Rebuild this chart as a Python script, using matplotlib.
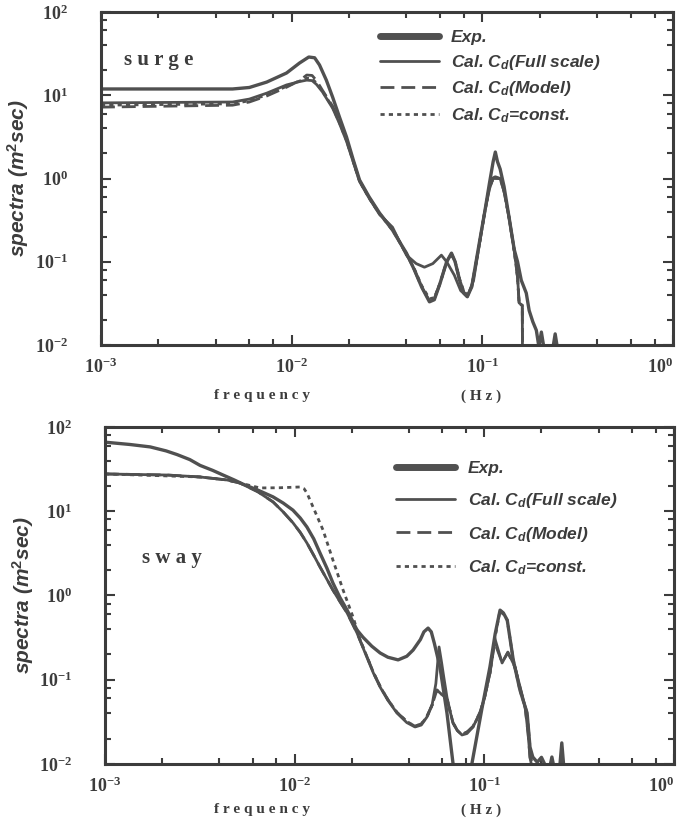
import matplotlib
matplotlib.use("Agg")
import matplotlib.pyplot as plt
from matplotlib.ticker import FixedLocator, FixedFormatter, LogLocator, NullFormatter

# ---- surge ----
surge_exp_f = [0.001, 0.0049, 0.006, 0.0074, 0.0094, 0.011, 0.0123, 0.0132, 0.014, 0.0152,
               0.0164, 0.0178, 0.0194, 0.021, 0.0227, 0.0255, 0.0289, 0.0338, 0.037, 0.040,
               0.044, 0.048, 0.0528, 0.056, 0.060, 0.065, 0.0689, 0.072, 0.076, 0.080,
               0.0834, 0.088, 0.0964, 0.103, 0.109, 0.114, 0.117, 0.120, 0.124, 0.130,
               0.138, 0.147, 0.153, 0.160, 0.170, 0.176, 0.184, 0.192, 0.198, 0.204,
               0.210, 0.235, 0.241, 0.247, 0.3]
surge_exp_s = [11.9, 11.9, 12.4, 14.4, 18.5, 24.4, 28.8, 28.2, 23.1, 15.2,
               9.5, 5.5, 3.15, 1.7, 0.96, 0.6, 0.385, 0.24, 0.17, 0.127,
               0.08, 0.05, 0.033, 0.035, 0.055, 0.1, 0.127, 0.1, 0.06, 0.042,
               0.038, 0.05, 0.168, 0.4, 0.88, 1.6, 2.08, 1.6, 1.3, 0.8,
               0.345, 0.14, 0.1, 0.06, 0.042, 0.026, 0.019, 0.015, 0.0095, 0.0143,
               0.0095, 0.0095, 0.0136, 0.0095, 0.0095]

surge_full_f = [0.001, 0.0049, 0.006, 0.0074, 0.0094, 0.011, 0.012, 0.0128, 0.0135, 0.0145,
                0.0164, 0.0178, 0.0194, 0.021, 0.0227, 0.0255, 0.0289, 0.0338, 0.037, 0.040,
                0.045, 0.0497, 0.055, 0.061, 0.065, 0.0713, 0.077, 0.0834, 0.09, 0.0964,
                0.103, 0.109, 0.114, 0.117, 0.124, 0.130, 0.138, 0.147, 0.153, 0.156,
                0.162, 0.1625]
surge_full_s = [8.1, 8.3, 9.0, 10.6, 13.3, 14.6, 15.2, 15.0, 13.5, 11.0,
                7.0, 4.6, 2.8, 1.6, 0.92, 0.58, 0.37, 0.26, 0.17, 0.12,
                0.095, 0.086, 0.095, 0.12, 0.1, 0.069, 0.045, 0.038, 0.06, 0.16,
                0.4, 0.75, 1.02, 1.05, 1.0, 0.7, 0.345, 0.138, 0.066, 0.032,
                0.03, 0.005]

surge_model_f = [0.001, 0.0049, 0.006, 0.0074, 0.0094, 0.011, 0.012, 0.0128, 0.0135, 0.0145,
                 0.0164, 0.0178, 0.0194, 0.021, 0.0227, 0.0255, 0.0289, 0.0338, 0.037, 0.040,
                 0.044, 0.048, 0.0528, 0.056, 0.060, 0.065, 0.0689, 0.072, 0.076, 0.080,
                 0.0834, 0.088, 0.0964, 0.103, 0.109, 0.114, 0.117, 0.124, 0.130, 0.138,
                 0.147, 0.153, 0.156, 0.162, 0.1625]
surge_model_s = [7.2, 7.6, 8.3, 9.8, 12.5, 15.0, 17.5, 17.3, 15.0, 11.5,
                 7.4, 4.8, 2.9, 1.65, 0.94, 0.59, 0.38, 0.25, 0.17, 0.125,
                 0.08, 0.05, 0.034, 0.036, 0.055, 0.1, 0.125, 0.1, 0.06, 0.043,
                 0.039, 0.05, 0.16, 0.4, 0.8, 1.0, 1.0, 1.0, 0.7, 0.34,
                 0.135, 0.065, 0.031, 0.03, 0.005]

surge_const_f = [0.001, 0.0049, 0.006, 0.0074, 0.0094, 0.011, 0.012, 0.0128, 0.0135, 0.0145,
                 0.0164, 0.0178, 0.0194, 0.021, 0.0227, 0.0255, 0.0289, 0.0338, 0.037, 0.040,
                 0.044, 0.048, 0.0528, 0.056, 0.060, 0.065, 0.0689, 0.072, 0.076, 0.080,
                 0.0834, 0.088, 0.0964, 0.103, 0.109, 0.114, 0.117, 0.124, 0.130, 0.138,
                 0.147, 0.153, 0.156, 0.162, 0.1625]
surge_const_s = [7.6, 7.9, 8.6, 10.1, 12.8, 14.8, 16.0, 15.8, 14.0, 11.2,
                 7.2, 4.7, 2.85, 1.62, 0.93, 0.58, 0.375, 0.24, 0.17, 0.122,
                 0.082, 0.052, 0.036, 0.037, 0.055, 0.1, 0.12, 0.1, 0.062, 0.044,
                 0.04, 0.05, 0.16, 0.4, 0.78, 1.0, 1.02, 1.0, 0.7, 0.34,
                 0.136, 0.065, 0.031, 0.03, 0.005]

# ---- sway ----
sway_exp_f = [0.001, 0.00135, 0.00173, 0.0021, 0.0024, 0.0028, 0.00317, 0.0037, 0.00419, 0.0048,
              0.00533, 0.0064, 0.00769, 0.0087, 0.00979, 0.0107, 0.0116, 0.0126, 0.0136, 0.0148,
              0.0159, 0.0173, 0.0189, 0.0213, 0.0229, 0.0255, 0.0282, 0.031, 0.0351, 0.039,
              0.0421, 0.046, 0.048, 0.0505, 0.0525, 0.0545, 0.0583, 0.0635, 0.0683, 0.070,
              0.085, 0.0861, 0.097, 0.107, 0.114, 0.121, 0.126, 0.132, 0.142, 0.154,
              0.168, 0.174, 0.180, 0.19, 0.2, 0.21, 0.222, 0.227, 0.232, 0.25,
              0.256, 0.262, 0.3]
sway_exp_s = [66, 62, 58, 52, 47, 41, 35, 30.5, 26.9, 23.5,
              21.0, 17.8, 14.8, 12.5, 10.3, 8.3, 6.5, 4.7, 3.19, 2.1,
              1.41, 0.95, 0.67, 0.39, 0.32, 0.25, 0.208, 0.185, 0.172, 0.19,
              0.225, 0.3, 0.37, 0.41, 0.37, 0.27, 0.142, 0.0403, 0.0103, 0.008,
              0.008, 0.0103, 0.045, 0.142, 0.35, 0.67, 0.62, 0.51, 0.172, 0.0755,
              0.0403, 0.0159, 0.0121, 0.0105, 0.012, 0.0095, 0.0095, 0.0121, 0.0095, 0.0095,
              0.0178, 0.0095, 0.0095]

sway_full_f = [0.001, 0.00212, 0.00317, 0.0044, 0.00515, 0.0064, 0.00769, 0.0087, 0.00979, 0.0107,
               0.0116, 0.0126, 0.0136, 0.0148, 0.0159, 0.0173, 0.0189, 0.0213, 0.0240, 0.026,
               0.0282, 0.031, 0.0346, 0.039, 0.0431, 0.0465, 0.0498, 0.053, 0.0555, 0.0577,
               0.0595, 0.0610, 0.0635, 0.066, 0.0683, 0.072, 0.0762, 0.081, 0.0871, 0.0948,
               0.100, 0.107, 0.114, 0.124, 0.133, 0.145, 0.164, 0.170, 0.174, 0.18]
sway_full_s = [27.7, 26.9, 25.5, 23.5, 21.6, 17.0, 12.9, 9.8, 7.3, 5.6,
               4.2, 3.0, 2.18, 1.55, 1.16, 0.85, 0.62, 0.36, 0.186, 0.12,
               0.082, 0.057, 0.0403, 0.031, 0.0275, 0.029, 0.0361, 0.05, 0.09, 0.245,
               0.16, 0.11, 0.062, 0.042, 0.0307, 0.025, 0.0221, 0.023, 0.0275, 0.0403,
               0.06, 0.12, 0.30, 0.158, 0.213, 0.142, 0.0475, 0.0233, 0.0121, 0.008]

sway_model_f = [0.001, 0.00212, 0.00317, 0.0044, 0.00515, 0.0064, 0.00769, 0.0087, 0.00979, 0.0107,
                0.0116, 0.0126, 0.0136, 0.0148, 0.0159, 0.0173, 0.0189, 0.0213, 0.0240, 0.026,
                0.0282, 0.031, 0.0346, 0.039, 0.0431, 0.0465, 0.0498, 0.053, 0.0562, 0.0600,
                0.0635, 0.066, 0.0683, 0.072, 0.0762, 0.081, 0.0871, 0.0948, 0.100, 0.107,
                0.113, 0.124, 0.133, 0.145, 0.164, 0.170, 0.174, 0.18]
sway_model_s = [27.7, 26.9, 25.5, 23.5, 21.6, 17.0, 12.9, 9.8, 7.3, 5.6,
                4.2, 3.0, 2.18, 1.55, 1.16, 0.85, 0.62, 0.36, 0.19, 0.122,
                0.084, 0.058, 0.041, 0.032, 0.028, 0.03, 0.037, 0.05, 0.0755, 0.066,
                0.058, 0.042, 0.031, 0.025, 0.0225, 0.024, 0.028, 0.041, 0.06, 0.12,
                0.28, 0.16, 0.21, 0.14, 0.047, 0.023, 0.012, 0.008]

sway_const_f = [0.001, 0.00317, 0.0044, 0.00515, 0.00656, 0.00836, 0.01066, 0.0112, 0.0116, 0.0125,
                0.0141, 0.0159, 0.0180, 0.0203, 0.0221, 0.0240, 0.026, 0.0282, 0.031, 0.0346,
                0.039, 0.0431, 0.0465, 0.0498, 0.053, 0.0562, 0.0600, 0.0635, 0.066, 0.0683,
                0.072, 0.0762, 0.081, 0.0871, 0.0948, 0.100, 0.107, 0.114, 0.121, 0.132,
                0.142, 0.154, 0.168, 0.174, 0.18]
sway_const_s = [27.7, 25.5, 23.5, 21.6, 18.9, 19.0, 19.4, 18.5, 16.5, 11.2,
                6.0, 2.64, 1.16, 0.556, 0.30, 0.19, 0.122, 0.083, 0.058, 0.041,
                0.032, 0.028, 0.03, 0.036, 0.05, 0.0755, 0.066, 0.06, 0.042, 0.031,
                0.025, 0.0222, 0.024, 0.0275, 0.0403, 0.06, 0.12, 0.32, 0.67, 0.51,
                0.172, 0.0755, 0.0403, 0.0159, 0.008]

y_ticks = [0.01, 0.1, 1, 10, 100]
y_labels = [r'$\mathbf{10^{-2}}$', r'$\mathbf{10^{-1}}$', r'$\mathbf{10^{0}}$',
            r'$\mathbf{10^{1}}$', r'$\mathbf{10^{2}}$']
x_ticks = [0.001, 0.01, 0.1, 1]
x_labels = [r'$\mathbf{10^{-3}}$', r'$\mathbf{10^{-2}}$', r'$\mathbf{10^{-1}}$', r'$\mathbf{10^{0}}$']
legend_labels = ['Exp.', r'Cal. C$_d$(Full scale)', r'Cal. C$_d$(Model)', r'Cal. C$_d$=const.']

plt.rcParams['mathtext.fontset'] = 'custom'
plt.rcParams['mathtext.rm'] = 'Liberation Sans:bold'
plt.rcParams['mathtext.it'] = 'Liberation Sans:bold:italic'
plt.rcParams['mathtext.bf'] = 'Liberation Serif:bold'
INK = '#3c3c3c'
LINE = '#505050'


def draw_panel(ax, series, name, name_xy, leg_xy, leg_space):
    styles = [dict(lw=2.4, ls='-'), dict(lw=2.0, ls='-'),
              dict(lw=2.0, ls=(0, (5, 2.5))), dict(lw=2.0, ls=(0, (1.5, 1.5)))]
    for (f, s), st, lab in zip(series, styles, legend_labels):
        ax.plot(f, s, color=LINE, label=lab, solid_capstyle='round',
                solid_joinstyle='round', **st)
    ax.set_xscale('log')
    ax.set_yscale('log')
    ax.set_xlim(0.001, 1)
    ax.set_ylim(0.01, 100)
    ax.xaxis.set_major_locator(FixedLocator(x_ticks))
    ax.xaxis.set_major_formatter(FixedFormatter(x_labels))
    ax.yaxis.set_major_locator(FixedLocator(y_ticks))
    ax.yaxis.set_major_formatter(FixedFormatter(y_labels))
    ax.xaxis.set_minor_locator(LogLocator(base=10, subs=[2, 4, 6, 8]))
    ax.yaxis.set_minor_locator(LogLocator(base=10, subs=[2, 4, 6, 8]))
    ax.xaxis.set_minor_formatter(NullFormatter())
    ax.yaxis.set_minor_formatter(NullFormatter())
    ax.tick_params(which='both', direction='in', top=True, right=True, color=INK, width=1.5)
    ax.tick_params(which='major', length=7)
    ax.tick_params(which='minor', length=4)
    ax.tick_params(axis='x', which='major', pad=9, labelsize=13, labelcolor=INK)
    ax.tick_params(axis='y', which='major', pad=24, labelsize=13, labelcolor=INK)
    ax.get_xticklabels()[-1].set_horizontalalignment('right')
    for sp in ax.spines.values():
        sp.set_linewidth(2.2)
        sp.set_color(INK)
    ax.set_ylabel(r'spectra (m$^2$sec)', family='Liberation Sans', style='italic',
                  weight='bold', fontsize=15, color=INK)
    ax.yaxis.set_label_coords(-0.122, 0.5)
    ax.text(name_xy[0], name_xy[1], name, transform=ax.transAxes, family='Liberation Serif',
            weight='bold', fontsize=15, color=INK, va='center')
    leg = ax.legend(loc='upper left', bbox_to_anchor=leg_xy, frameon=False,
                    prop=dict(family='Liberation Sans', style='italic', weight='bold', size=12.5),
                    handlelength=3.4, handletextpad=0.7, labelspacing=leg_space, borderaxespad=0)
    for t in leg.get_texts():
        t.set_color(INK)
    leg.get_lines()[0].set_linewidth(5)


fig = plt.figure(figsize=(6.85, 8.23), dpi=100)
ax1 = fig.add_axes([0.1474, 0.5808, 0.8351, 0.4046])
ax2 = fig.add_axes([0.1533, 0.0717, 0.8307, 0.4095])

draw_panel(ax1, [(surge_exp_f, surge_exp_s), (surge_full_f, surge_full_s),
                 (surge_model_f, surge_model_s), (surge_const_f, surge_const_s)],
           's u r g e', (0.04, 0.855), (0.475, 0.968), 0.45)
draw_panel(ax2, [(sway_exp_f, sway_exp_s), (sway_full_f, sway_full_s),
                 (sway_model_f, sway_model_s), (sway_const_f, sway_const_s)],
           's w a y', (0.065, 0.61), (0.5, 0.92), 0.85)

for y in (1 - 396 / 823, 1 - 810 / 823):
    fig.text(262 / 685, y, 'f r e q u e n c y', family='Liberation Serif', weight='bold',
             fontsize=11, color=INK, ha='center', va='center')
    fig.text(481 / 685, y, '( H z )', family='Liberation Serif', weight='bold',
             fontsize=11, color=INK, ha='center', va='center')

fig.savefig('out.png', dpi=100, facecolor='white')
